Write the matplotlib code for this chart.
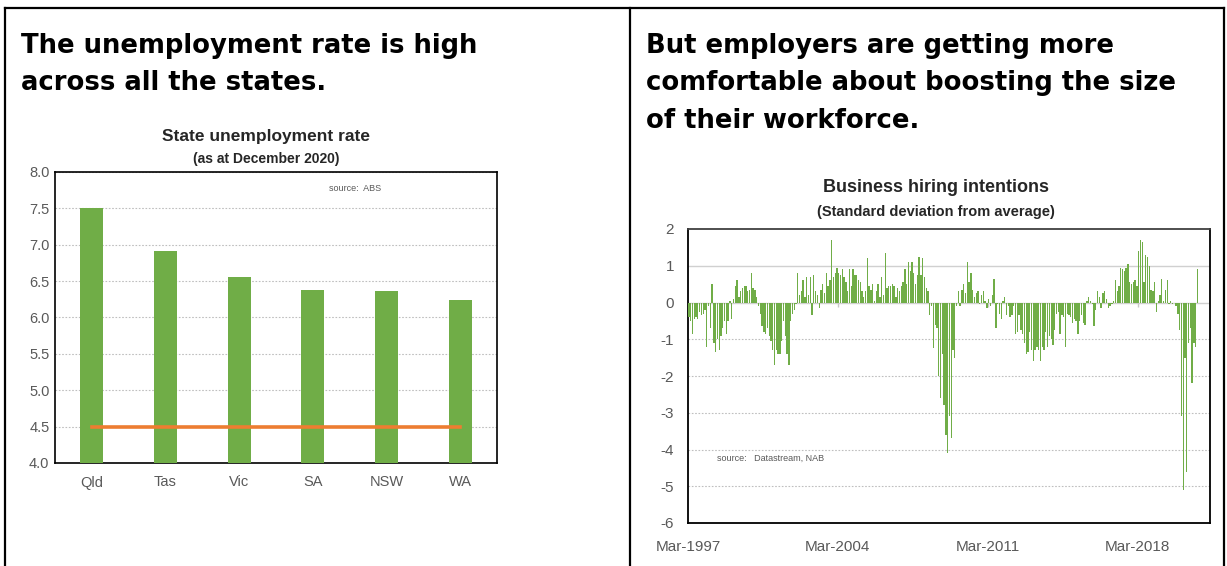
import numpy as np
import matplotlib
matplotlib.use("Agg")
import matplotlib.pyplot as plt
from matplotlib.lines import Line2D

# left panel: state unemployment rate, Dec 2020
states = ["Qld", "Tas", "Vic", "SA", "NSW", "WA"]
unemp_rate = [7.5, 6.91, 6.55, 6.38, 6.36, 6.24]
ref_level = 4.5

# right panel: NAB business hiring intentions (std dev from average), monthly from Mar-1997
hiring_start = "1997-03"
hiring_1997 = [-0.4, -0.5, -0.85, -0.45, -0.4, -0.45, -0.25, -0.35, -0.3, -0.2]
hiring_1998 = [-1.2, -0.1, -0.7, 0.5, -1.1, -1.35, -1.0, -1.3, -0.9, -0.7, -0.5, -0.85]
hiring_1999 = [-0.5, 0.05, -0.45, 0.1, 0.45, 0.6, 0.15, 0.3, 0.4, 0.45, 0.45, 0.3]
hiring_2000 = [0.35, 0.8, 0.4, 0.35, 0.15, -0.1, -0.3, -0.65, -0.8, -0.85, -0.7, -0.9]
hiring_2001 = [-1.05, -1.3, -1.7, -1.3, -1.4, -1.4, -1.05, -0.5, -0.9, -1.4, -1.7, -0.5]
hiring_2002 = [-0.3, -0.2, -0.05, 0.8, 0.2, 0.3, 0.6, 0.15, 0.7, 0.2, 0.7, -0.35]
hiring_2003 = [0.75, 0.3, 0.2, -0.15, 0.35, 0.5, 0.25, 0.8, 0.45, 0.6, 1.7, 0.7]
hiring_2004 = [0.8, 0.95, 0.8, 0.75, 0.9, 0.7, 0.55, 0.3, 0.9, 0.45, 0.9, 0.75]
hiring_2005 = [0.75, 0.6, 0.55, 0.3, 0.15, 0.3, 1.2, 0.45, 0.35, 0.5, 0.05, 0.3]
hiring_2006 = [0.5, 0.15, 0.7, 0.2, 1.35, 0.4, 0.45, 0.45, 0.5, 0.45, 0.15, 0.4]
hiring_2007 = [0.3, 0.45, 0.55, 0.9, 0.5, 1.1, 0.85, 1.1, 0.8, 0.5, 0.75, 1.25]
hiring_2008 = [0.75, 1.2, 0.7, 0.4, 0.3, -0.35, -0.1, -1.25, -0.6, -0.7, -2.0, -2.6]
hiring_2009 = [-1.4, -2.8, -3.6, -4.1, -3.1, -3.7, -1.3, -1.5, -0.1, 0.3, -0.1, 0.35]
hiring_2010 = [0.5, 0.25, 1.1, 0.55, 0.8, 0.35, 0.15, 0.25, 0.3, -0.05, 0.2, 0.3]
hiring_2011 = [0.05, -0.15, 0.1, -0.1, 0.2, 0.65, -0.7, -0.05, -0.3, -0.45, 0.05, 0.15]
hiring_2012 = [-0.35, -0.1, -0.4, -0.35, -0.1, -0.85, -0.8, -0.35, -0.75, -0.85, -1.1, -1.4]
hiring_2013 = [-1.35, -0.8, -1.3, -1.6, -1.3, -1.2, -1.3, -1.6, -1.2, -1.3, -0.8, -1.2]
hiring_2014 = [-0.9, -1.0, -1.15, -0.75, -0.3, -0.25, -0.85, -0.35, -0.4, -1.2, -0.3, -0.35]
hiring_2015 = [-0.4, -0.55, -0.45, -0.5, -0.85, -0.5, -0.35, -0.55, -0.6, 0.05, 0.15, 0.05]
hiring_2016 = [-0.05, -0.65, -0.2, 0.3, 0.15, -0.15, 0.25, 0.3, 0.1, -0.15, -0.1, -0.05]
hiring_2017 = [0.05, 0.6, 0.3, 0.45, 0.95, 0.9, 0.85, 0.95, 1.05, 0.55, 0.5, 0.55]
hiring_2018 = [0.6, 0.45, 1.4, 1.7, 1.65, 0.55, 1.3, 1.25, 1.0, 0.35, 0.3, 0.55]
hiring_2019 = [-0.25, 0.05, 0.2, 0.65, 0.05, 0.35, 0.6, -0.05, 0.05, -0.05, 0.0, -0.1]
hiring_2020 = [-0.3, -0.75, -3.1, -5.1, -1.5, -4.6, -1.1, -0.7, -2.2, -1.1, -1.2, 0.9]
hiring_ticks = ["Mar-1997", "Mar-2004", "Mar-2011", "Mar-2018"]

hiring = np.array(hiring_1997 + hiring_1998 + hiring_1999 + hiring_2000 + hiring_2001
                  + hiring_2002 + hiring_2003 + hiring_2004 + hiring_2005 + hiring_2006
                  + hiring_2007 + hiring_2008 + hiring_2009 + hiring_2010 + hiring_2011
                  + hiring_2012 + hiring_2013 + hiring_2014 + hiring_2015 + hiring_2016
                  + hiring_2017 + hiring_2018 + hiring_2019 + hiring_2020)

W, H = 1227, 566
GREEN = "#70AD47"
ORANGE = "#ED7D31"
GREY = "#595959"
GRID = "#BFBFBF"
plt.rcParams["font.family"] = ["Liberation Sans", "DejaVu Sans"]
plt.rcParams["axes.unicode_minus"] = False

fig = plt.figure(figsize=(W / 100, H / 100), dpi=100)


def fx(px):
    return px / W


def fy(py):
    return 1 - py / H


# panel frame
for xs, ys in [((5, 5), (8, 566)), ((5, 1224), (8, 8)), ((630, 630), (8, 566)), ((1224, 1224), (8, 566))]:
    fig.add_artist(Line2D([fx(xs[0]), fx(xs[1])], [fy(ys[0]), fy(ys[1])], color="black", lw=1.6))

head = dict(family="DejaVu Sans", fontweight="bold", fontsize=18.6, color="black", va="baseline")
fig.text(fx(21), fy(53), "The unemployment rate is high", **head)
fig.text(fx(21), fy(90), "across all the states.", **head)
fig.text(fx(646), fy(53), "But employers are getting more", **head)
fig.text(fx(646), fy(90), "comfortable about boosting the size", **head)
fig.text(fx(646), fy(128), "of their workforce.", **head)

# ---- left chart ----
ax1 = fig.add_axes([fx(55), fy(463), fx(497) - fx(55), fy(172) - fy(463)])
x = np.arange(len(states))
ax1.bar(x, unemp_rate, width=0.31, color=GREEN, zorder=3)
ax1.plot([x[0], x[-1]], [ref_level, ref_level], color=ORANGE, lw=2.6, zorder=4)
ax1.set_xlim(-0.5, len(states) - 0.5)
ax1.set_ylim(4.0, 8.0)
ax1.set_yticks(np.arange(4.0, 8.01, 0.5))
ax1.set_yticklabels([f"{v:.1f}" for v in np.arange(4.0, 8.01, 0.5)])
ax1.set_xticks(x)
ax1.set_xticklabels(states)
ax1.tick_params(length=0, colors=GREY, labelsize=10.5, pad=9)
ax1.tick_params(axis="y", pad=4)
ax1.yaxis.grid(True, color=GRID, ls=(0, (1.5, 1.5)), lw=0.8, zorder=0)
for s in ax1.spines.values():
    s.set_color("black")
    s.set_linewidth(1.2)
ax1.text(0.62, 0.945, "source:  ABS", transform=ax1.transAxes, fontsize=6.5, color=GREY, va="center")
fig.text(fx(266), fy(137), "State unemployment rate", ha="center", va="center",
         fontsize=12.5, fontweight="bold", color="#262626")
fig.text(fx(266), fy(159), "(as at December 2020)", ha="center", va="center",
         fontsize=10, fontweight="bold", color="#262626")

# ---- right chart ----
ax2 = fig.add_axes([fx(688), fy(523), fx(1210) - fx(688), fy(229) - fy(523)])
m = np.arange(len(hiring))
ax2.bar(m + 0.5, hiring, width=0.75, color=GREEN, zorder=3, linewidth=0)
ax2.set_xlim(0, 292.5)
ax2.set_ylim(-6, 2)
ax2.set_yticks(range(-6, 3))
ax2.set_xticks([0, 84, 168, 252])
ax2.set_xticklabels(hiring_ticks)
ax2.tick_params(length=0, colors=GREY, labelsize=11)
ax2.tick_params(axis="x", pad=12)
ax2.tick_params(axis="y", pad=10)
for v in range(-5, 2):
    if v in (0, 1):
        ax2.axhline(v, color="#D0D0D0", lw=1.0, zorder=1)
    else:
        ax2.axhline(v, color=GRID, ls=(0, (1.5, 1.5)), lw=0.8, zorder=1)
ax2.vlines([84, 168, 252], -0.12, 0, color="#C8C8C8", lw=1, zorder=1)
for s in ax2.spines.values():
    s.set_color("black")
    s.set_linewidth(1.3)
ax2.spines["top"].set_color("#404040")
ax2.text(0.055, 0.22, "source:   Datastream, NAB", transform=ax2.transAxes, fontsize=6.5,
         color=GREY, va="center")
fig.text(fx(936), fy(187), "Business hiring intentions", ha="center", va="center",
         fontsize=13, fontweight="bold", color="#262626")
fig.text(fx(936), fy(212), "(Standard deviation from average)", ha="center", va="center",
         fontsize=10.5, fontweight="bold", color="#262626")

fig.savefig("out.png", dpi=100)
